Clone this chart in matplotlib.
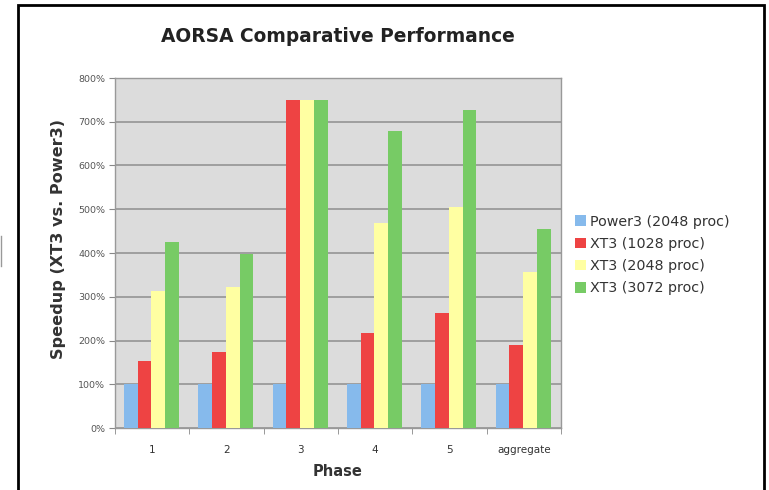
import matplotlib.pyplot as plt
import numpy as np
from matplotlib.patches import Patch, Rectangle
from matplotlib.lines import Line2D
from matplotlib.ticker import FixedLocator, PercentFormatter

phases = ['1', '2', '3', '4', '5', 'aggregate']
series = ['Power3 (2048 proc)', 'XT3 (1028 proc)', 'XT3 (2048 proc)', 'XT3 (3072 proc)']
power3_2048 = [100, 100, 100, 100, 100, 100]
xt3_1028 = [154, 173, 750, 218, 263, 190]
xt3_2048 = [313, 323, 750, 469, 506, 357]
xt3_3072 = [424, 397, 750, 679, 727, 454]
colors = ['#86BAEC', '#EE4343', '#FFFFA2', '#77CB65']

fig = plt.figure(figsize=(7.69, 4.90), dpi=100)
ax = fig.add_axes([115 / 769, 1 - 428 / 490, 446 / 769, 350 / 490])
ax.set_facecolor('#DCDCDC')

x = np.arange(len(phases))
w = 0.185
for i, (vals, c) in enumerate(zip([power3_2048, xt3_1028, xt3_2048, xt3_3072], colors)):
    ax.bar(x + (i - 1.5) * w - 0.01, vals, width=w, color=c, zorder=3)

ax.set_xlim(-0.5, len(phases) - 0.5)
ax.set_ylim(0, 800)
ax.set_yticks(np.arange(0, 801, 100))
ax.yaxis.set_major_formatter(PercentFormatter(decimals=0))
ax.grid(axis='y', color='#8E8E8E', linewidth=1.1, zorder=1)

ax.set_xticks(x)
ax.set_xticklabels(phases)
ax.xaxis.set_minor_locator(FixedLocator(np.arange(-0.5, len(phases), 1)))
ax.tick_params(axis='x', which='major', length=0, pad=12, labelsize=7.5, colors='#333333')
ax.tick_params(axis='x', which='minor', length=4, color='#888888')
ax.tick_params(axis='y', length=4, color='#888888', labelsize=6.8, labelcolor='#555555', pad=3)
for s in ax.spines.values():
    s.set_color('#999999')
    s.set_linewidth(1)

fig.text(338 / 769, 1 - 37 / 490, 'AORSA Comparative Performance', ha='center', va='center',
         fontsize=13.4, fontweight='bold', color='#222222')
fig.text(338 / 769, 1 - 471 / 490, 'Phase', ha='center', va='center',
         fontsize=10.5, fontweight='bold', color='#333333')
fig.text(58 / 769, 1 - 239 / 490, 'Speedup (XT3 vs. Power3)', ha='center', va='center',
         rotation=90, fontsize=11.6, fontweight='bold', color='#333333')

handles = [Patch(facecolor=c, edgecolor='none') for c in colors]
fig.legend(handles, series, loc='center left', bbox_to_anchor=(562 / 769, 1 - 255 / 490),
           frameon=False, fontsize=10.3, handlelength=0.75, handleheight=0.75,
           handletextpad=0.3, labelspacing=0.58, labelcolor='#333333')

# frame around the chart (open at the bottom)
fig.add_artist(Rectangle((18 / 769, -0.05), (764 - 18) / 769, 1.05 - 5.5 / 490,
                         transform=fig.transFigure, fill=False, edgecolor='black',
                         linewidth=2, clip_on=False))
fig.add_artist(Line2D([1 / 769, 1 / 769], [1 - 236 / 490, 1 - 266 / 490],
                      transform=fig.transFigure, color='#999999', linewidth=1))

fig.savefig('out.png', dpi=100)
